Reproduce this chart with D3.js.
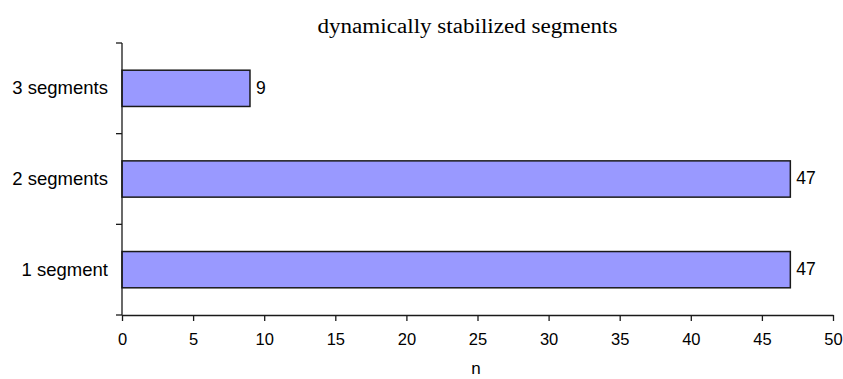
<!DOCTYPE html>
<html><head><meta charset="utf-8">
<script src="https://cdn.jsdelivr.net/npm/d3@7"></script>
<style>body{margin:0;background:#fff}</style>
</head><body>
<script>
const categories = ["1 segment", "2 segments", "3 segments"];
const values = [47, 47, 9];
const xTicks = [0, 5, 10, 15, 20, 25, 30, 35, 40, 45, 50];
const title = "dynamically stabilized segments";
const xLabel = "n";

const W = 843, H = 379;
const m = {left: 122, right: 10, top: 43, bottom: 64};
const svg = d3.select("body").append("svg").attr("width", W).attr("height", H);

const x = d3.scaleLinear().domain([0, 50]).range([m.left, 833]);
const y = d3.scaleBand().domain(categories.slice().reverse()).range([m.top, 315])
  .paddingInner(0.6).paddingOuter(0.3);

const font = "'Liberation Sans', Arial, Helvetica, sans-serif";

// bars
svg.selectAll("rect.bar").data(categories).enter().append("rect")
  .attr("x", x(0)).attr("y", d => y(d))
  .attr("width", (d, i) => x(values[i]) - x(0))
  .attr("height", y.bandwidth())
  .attr("fill", "#9999ff").attr("stroke", "#1a1a1a").attr("stroke-width", 1.5);

// value labels
svg.selectAll("text.val").data(categories).enter().append("text")
  .attr("x", (d, i) => x(values[i]) + 6).attr("y", d => y(d) + y.bandwidth() / 2)
  .attr("dy", "0.3em").attr("font-family", font).attr("font-size", 17.5)
  .attr("fill", "#000").text((d, i) => values[i]);

// x axis
const xAxis = d3.axisBottom(x).tickValues(xTicks).tickSize(6).tickPadding(12).tickSizeOuter(0);
const gx = svg.append("g").attr("transform", `translate(0,315)`).call(xAxis);
gx.selectAll("text").attr("font-family", font).attr("font-size", 16.5).attr("fill", "#000");
gx.selectAll("line,path").attr("stroke", "#1a1a1a").attr("stroke-width", 1.3);

// y axis line + ticks at band boundaries
const step = y.step();
const bounds = [m.top, m.top + step, m.top + 2 * step, 315];
svg.append("line").attr("x1", x(0)).attr("x2", x(0)).attr("y1", m.top).attr("y2", 315)
  .attr("stroke", "#1a1a1a").attr("stroke-width", 1.3);
svg.selectAll("line.yt").data(bounds).enter().append("line")
  .attr("x1", x(0) - 6).attr("x2", x(0)).attr("y1", d => d).attr("y2", d => d)
  .attr("stroke", "#1a1a1a").attr("stroke-width", 1.3);

// category labels
svg.selectAll("text.cat").data(categories).enter().append("text")
  .attr("x", 108).attr("y", d => y(d) + y.bandwidth() / 2)
  .attr("dy", "0.33em").attr("text-anchor", "end")
  .attr("font-family", font).attr("font-size", 18.5).attr("fill", "#000").text(d => d);

// title
svg.append("text").attr("x", 467.5).attr("y", 33).attr("text-anchor", "middle")
  .attr("font-family", "'Liberation Serif', 'Times New Roman', serif").attr("font-size", 20)
  .attr("textLength", 300).attr("lengthAdjust", "spacingAndGlyphs")
  .attr("fill", "#000").text(title);

// x label
svg.append("text").attr("x", 476).attr("y", 374).attr("text-anchor", "middle")
  .attr("font-family", font).attr("font-size", 17).attr("fill", "#000").text(xLabel);
</script>
</body></html>
